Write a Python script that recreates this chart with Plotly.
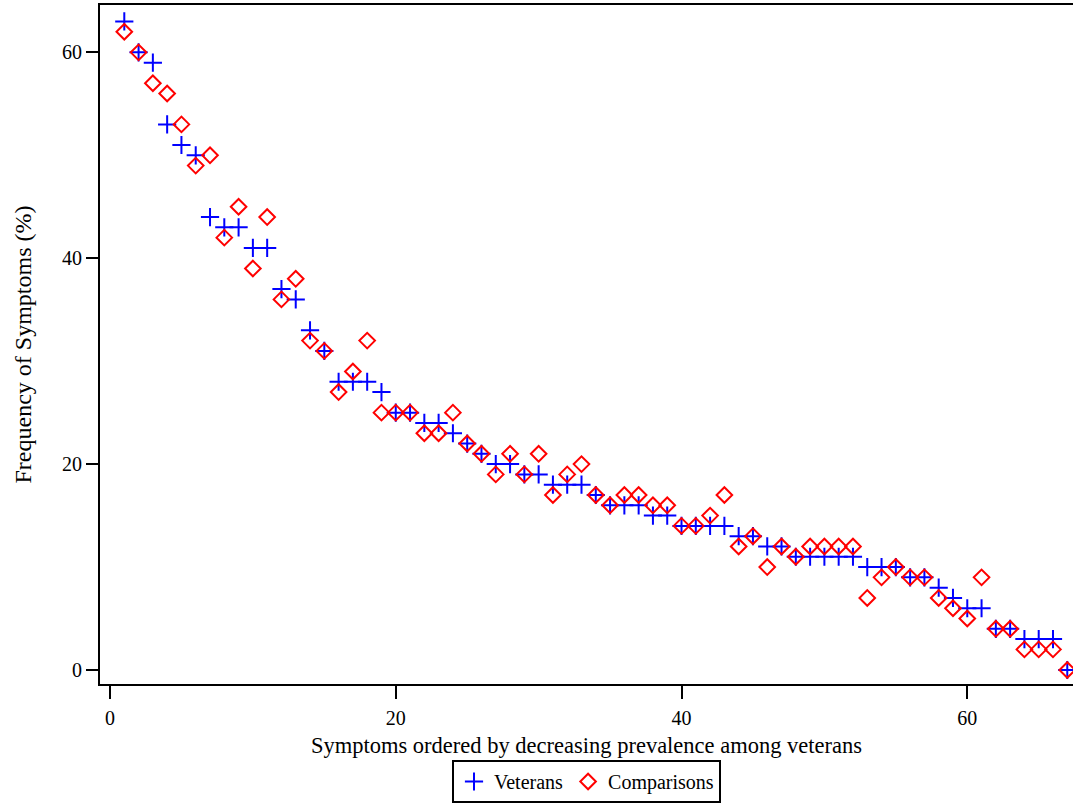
import plotly.graph_objects as go

symptom_rank = list(range(1, 68))
veterans = [63, 60, 59, 53, 51, 50, 44, 43, 43, 41, 41, 37, 36, 33, 31, 28, 28, 28, 27, 25,
            25, 24, 24, 23, 22, 21, 20, 20, 19, 19, 18, 18, 18, 17, 16, 16, 16, 15, 15, 14,
            14, 14, 14, 13, 13, 12, 12, 11, 11, 11, 11, 11, 10, 10, 10, 9, 9, 8, 7, 6,
            6, 4, 4, 3, 3, 3, 0]
comparisons = [62, 60, 57, 56, 53, 49, 50, 42, 45, 39, 44, 36, 38, 32, 31, 27, 29, 32, 25, 25,
               25, 23, 23, 25, 22, 21, 19, 21, 19, 21, 17, 19, 20, 17, 16, 17, 17, 16, 16, 14,
               14, 15, 17, 12, 13, 10, 12, 11, 12, 12, 12, 12, 7, 9, 10, 9, 9, 7, 6, 5,
               9, 4, 4, 2, 2, 2, 0]
x_ticks = [0, 20, 40, 60]
y_ticks = [0, 20, 40, 60]

font_family = "Liberation Serif"

fig = go.Figure()
fig.add_trace(go.Scatter(
    x=symptom_rank, y=veterans, mode="markers", name="Veterans",
    marker=dict(symbol="cross-thin", size=13, color="#0000FF",
                line=dict(color="#0000FF", width=2)),
))
fig.add_trace(go.Scatter(
    x=symptom_rank, y=comparisons, mode="markers", name="Comparisons",
    marker=dict(symbol="diamond-open", size=12, color="#FF0000",
                line=dict(color="#FF0000", width=2)),
))

fig.update_layout(
    width=1073, height=805,
    margin=dict(l=100, r=0, t=5, b=121, autoexpand=False),
    paper_bgcolor="white", plot_bgcolor="white",
    font=dict(family=font_family, size=20, color="black"),
    showlegend=True,
    legend=dict(orientation="h", x=0.5, xanchor="center",
                yref="container", y=2 / 805, yanchor="bottom",
                bordercolor="black", borderwidth=2, bgcolor="white",
                font=dict(family=font_family, size=20), itemwidth=30,
                tracegroupgap=0),
    xaxis=dict(
        range=[-0.7, 67.4], tickvals=x_ticks, ticktext=[str(v) for v in x_ticks],
        showgrid=False, zeroline=False, showline=True, linecolor="black", linewidth=2,
        mirror=True, ticks="outside", ticklen=13, tickwidth=2, tickcolor="black",
        ticklabelstandoff=2,
        tickfont=dict(family=font_family, size=20),
        title=dict(text="Symptoms ordered by decreasing prevalence among veterans",
                   font=dict(family=font_family, size=22.5), standoff=9),
    ),
    yaxis=dict(
        range=[-1.36, 64.6], tickvals=y_ticks, ticktext=[str(v) for v in y_ticks],
        showgrid=False, zeroline=False, showline=True, linecolor="black", linewidth=2,
        ticks="outside", ticklen=12, tickwidth=2, tickcolor="black",
        tickfont=dict(family=font_family, size=20),
        title=dict(text="Frequency of Symptoms (%)",
                   font=dict(family=font_family, size=24), standoff=24),
    ),
)

fig.write_html(
    "out.html",
    config={"displayModeBar": False},
    post_script="document.body.style.margin='0';document.body.style.overflow='hidden';",
)
